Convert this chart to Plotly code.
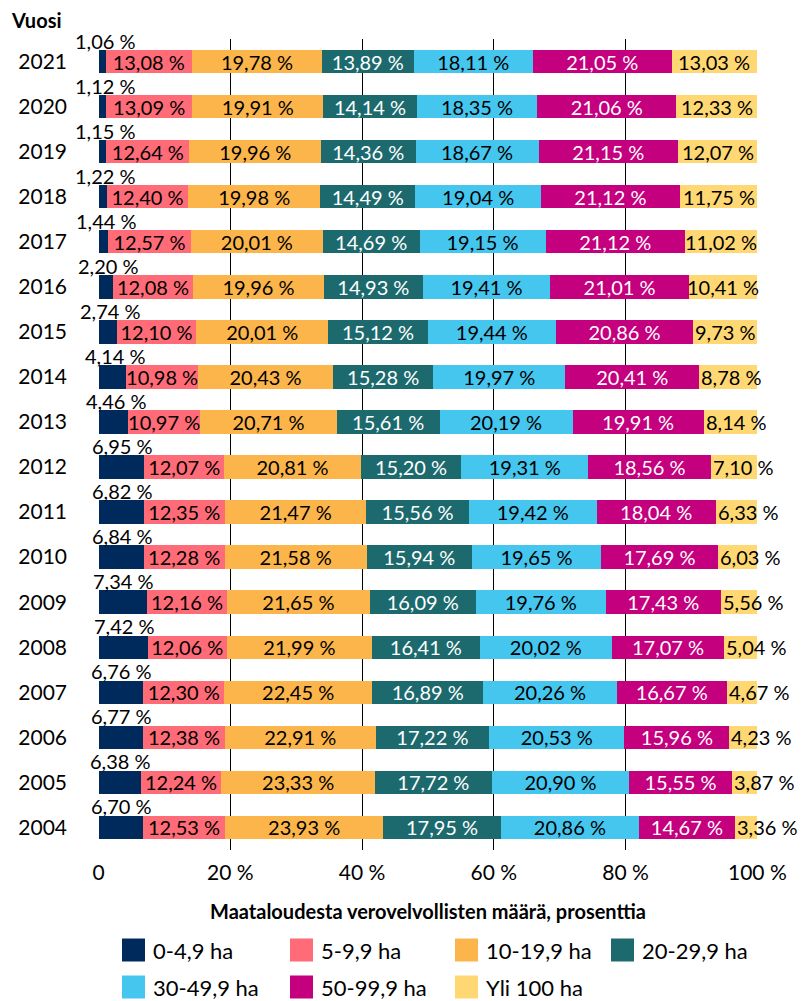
import plotly.graph_objects as go

years = ["2021", "2020", "2019", "2018", "2017", "2016", "2015", "2014", "2013",
         "2012", "2011", "2010", "2009", "2008", "2007", "2006", "2005", "2004"]

series_names = ["0-4,9 ha", "5-9,9 ha", "10-19,9 ha", "20-29,9 ha",
                "30-49,9 ha", "50-99,9 ha", "Yli 100 ha"]

s_0_5 = [1.06, 1.12, 1.15, 1.22, 1.44, 2.20, 2.74, 4.14, 4.46, 6.95, 6.82, 6.84, 7.34, 7.42, 6.76, 6.77, 6.38, 6.70]
s_5_10 = [13.08, 13.09, 12.64, 12.40, 12.57, 12.08, 12.10, 10.98, 10.97, 12.07, 12.35, 12.28, 12.16, 12.06, 12.30, 12.38, 12.24, 12.53]
s_10_20 = [19.78, 19.91, 19.96, 19.98, 20.01, 19.96, 20.01, 20.43, 20.71, 20.81, 21.47, 21.58, 21.65, 21.99, 22.45, 22.91, 23.33, 23.93]
s_20_30 = [13.89, 14.14, 14.36, 14.49, 14.69, 14.93, 15.12, 15.28, 15.61, 15.20, 15.56, 15.94, 16.09, 16.41, 16.89, 17.22, 17.72, 17.95]
s_30_50 = [18.11, 18.35, 18.67, 19.04, 19.15, 19.41, 19.44, 19.97, 20.19, 19.31, 19.42, 19.65, 19.76, 20.02, 20.26, 20.53, 20.90, 20.86]
s_50_100 = [21.05, 21.06, 21.15, 21.12, 21.12, 21.01, 20.86, 20.41, 19.91, 18.56, 18.04, 17.69, 17.43, 17.07, 16.67, 15.96, 15.55, 14.67]
s_100 = [13.03, 12.33, 12.07, 11.75, 11.02, 10.41, 9.73, 8.78, 8.14, 7.10, 6.33, 6.03, 5.56, 5.04, 4.67, 4.23, 3.87, 3.36]

x_ticks = [0, 20, 40, 60, 80, 100]
x_ticktext = ["0", "20 %", "40 %", "60 %", "80 %", "100 %"]

colors = ["#002a5c", "#ff6b77", "#fbb54a", "#1d6a6e", "#45c6ef", "#c4007f", "#ffd873"]
text_colors = ["black", "black", "black", "white", "black", "white", "black"]

all_series = [s_0_5, s_5_10, s_10_20, s_20_30, s_30_50, s_50_100, s_100]

FONT = "Lato"

# layout geometry (pixels)
W, H = 801, 1001
ML, MR, MT, MB = 98, 43, 39, 151
PW = W - ML - MR
PH = H - MT - MB

cat_order = years[::-1]  # bottom to top


def px2paper_x(px):
    return (px - ML) / PW


def px2paper_y(py):
    return (H - MB - py) / PH


def fmt(v):
    return f"{v:.2f}".replace(".", ",") + " %"


fig = go.Figure()

for i, (name, vals) in enumerate(zip(series_names, all_series)):
    show_text = 0 < i < 6
    fig.add_trace(go.Bar(
        name=name,
        y=years,
        x=vals,
        orientation="h",
        marker=dict(color=colors[i], line=dict(width=0)),
        text=[fmt(v) for v in vals] if show_text else None,
        textposition="inside" if show_text else "none",
        insidetextanchor="middle",
        textangle=0,
        textfont=dict(family=FONT, size=20, color=text_colors[i]),
        width=0.52,
        showlegend=False,
    ))

annotations = []
# first segment labels above bar
for y, v in zip(years, s_0_5):
    annotations.append(dict(
        x=v / 2, y=cat_order.index(y), xref="x", yref="y", text=fmt(v), showarrow=False,
        xanchor="center", yanchor="middle", yshift=21, xshift=3 if v < 5 else 1,
        font=dict(family=FONT, size=20, color="black"),
    ))

# last segment labels
for k, y in enumerate(years):
    start = sum(s[k] for s in all_series[:6])
    v = s_100[k]
    if v < 9.5:
        annotations.append(dict(
            x=start, y=cat_order.index(y), xref="x", yref="y", text=fmt(v), showarrow=False,
            xanchor="left", yanchor="middle", xshift=0,
            font=dict(family=FONT, size=20, color="black"),
        ))
    else:
        annotations.append(dict(
            x=start + v / 2, y=cat_order.index(y), xref="x", yref="y", text=fmt(v), showarrow=False,
            xanchor="center", yanchor="middle",
            font=dict(family=FONT, size=20, color="black"),
        ))

# "Vuosi" label
annotations.append(dict(
    x=px2paper_x(9), y=px2paper_y(20), xref="paper", yref="paper",
    text="<b>Vuosi</b>", showarrow=False, xanchor="left", yanchor="middle",
    font=dict(family=FONT, size=20, color="black"),
))

# x-axis title
annotations.append(dict(
    x=0.5, y=px2paper_y(911), xref="paper", yref="paper",
    text="<b>Maataloudesta verovelvollisten määrä, prosenttia</b>", showarrow=False,
    xanchor="center", yanchor="middle",
    font=dict(family=FONT, size=20, color="black"),
))

# custom legend
shapes = []
legend_pos = [(122, 950), (290, 950), (455, 950), (611, 950),
              (122, 987), (290, 987), (455, 987)]
SQ = 23
for (lx, ly), name, col in zip(legend_pos, series_names, colors):
    shapes.append(dict(
        type="rect", xref="paper", yref="paper",
        x0=px2paper_x(lx), x1=px2paper_x(lx + SQ),
        y0=px2paper_y(ly + SQ / 2), y1=px2paper_y(ly - SQ / 2),
        fillcolor=col, line=dict(width=0),
    ))
    annotations.append(dict(
        x=px2paper_x(lx + 29), y=px2paper_y(ly), xref="paper", yref="paper",
        text=name, showarrow=False, xanchor="left", yanchor="middle",
        font=dict(family=FONT, size=22, color="black"),
    ))

fig.update_layout(
    barmode="stack",
    width=W, height=H,
    margin=dict(l=ML, r=MR, t=MT, b=MB, pad=0, autoexpand=False),
    paper_bgcolor="white",
    plot_bgcolor="white",
    font=dict(family=FONT, color="black"),
    uniformtext=dict(minsize=20, mode="show"),
    annotations=annotations,
    shapes=shapes,
    xaxis=dict(
        range=[-0.1, 100.1],
        tickmode="array", tickvals=x_ticks, ticktext=x_ticktext,
        showgrid=True, gridcolor="black", gridwidth=1.4,
        zeroline=False, showline=False, ticks="",
        tickfont=dict(family=FONT, size=21, color="black"),
        ticklabelstandoff=8,
        fixedrange=True,
    ),
    yaxis=dict(
        type="category",
        categoryorder="array", categoryarray=cat_order,
        range=[-0.5, len(cat_order) - 0.5],
        showgrid=False, zeroline=False, showline=False, ticks="",
        tickfont=dict(family=FONT, size=21, color="black"),
        ticklabelstandoff=30,
        fixedrange=True,
    ),
    showlegend=False,
)

fig.write_html(
    "out.html",
    config={"displayModeBar": False},
    post_script="document.body.style.margin='0';document.body.style.padding='0';document.documentElement.style.overflow='hidden';",
)
